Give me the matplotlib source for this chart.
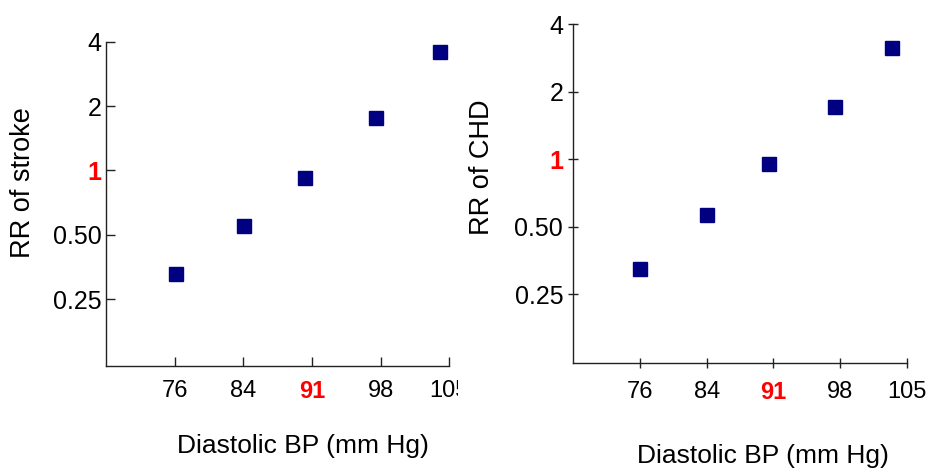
import matplotlib
matplotlib.use('Agg')
import matplotlib.pyplot as plt
from matplotlib.transforms import Bbox, TransformedBbox

plt.rcParams['font.family'] = ['Liberation Sans', 'DejaVu Sans']

bp_labels = ['76', '84', '91', '98', '105']
tick_pos = [1, 2, 3, 4, 5]
rr_ticks = [0.25, 0.5, 1, 2, 4]
rr_labels = ['0.25', '0.50', '1', '2', '4']

# x positions of the points (category units) and relative risks
stroke_x = [1.02, 2.01, 2.90, 3.93, 4.86]
stroke_rr = [0.326, 0.548, 0.921, 1.756, 3.59]
chd_x = [1.00, 2.01, 2.94, 3.92, 4.78]
chd_rr = [0.326, 0.565, 0.953, 1.717, 3.14]

navy = '#000080'
red = '#ff0000'

fig = plt.figure(figsize=(9.28, 4.68), dpi=100)

panels = [
    dict(rect=[106/928, 1-365.7/468, 343.4/928, 324/468], x=stroke_x, y=stroke_rr,
         ylabel='RR of stroke', ylim=(0.122, 4), ms=10.5, tickdir='in',
         ylab_xy=(23, 183), xlab_xy=(303, 453), ypad=3),
    dict(rect=[573.3/928, 1-362.7/468, 333.4/928, 338.4/468], x=chd_x, y=chd_rr,
         ylabel='RR of CHD', ylim=(0.124, 4), ms=10, tickdir='inout',
         ylab_xy=(482.5, 167.5), xlab_xy=(763, 463), ypad=4),
]

for p in panels:
    ax = fig.add_axes(p['rect'])
    ax.plot(p['x'], p['y'], 's', color=navy, ms=p['ms'], clip_on=False)
    ax.set_yscale('log')
    ax.set_ylim(*p['ylim'])
    ax.set_xlim(0, 5)
    ax.set_yticks(rr_ticks)
    ax.set_yticklabels(rr_labels)
    ax.minorticks_off()
    ax.set_xticks(tick_pos)
    ax.set_xticklabels(bp_labels)
    for s in ['top', 'right']:
        ax.spines[s].set_visible(False)
    for s in ['left', 'bottom']:
        ax.spines[s].set_color('#222222')
        ax.spines[s].set_linewidth(1)
    ax.tick_params(axis='y', direction=p['tickdir'], length=6.5, width=1,
                   labelsize=18, pad=p['ypad'], color='#222222')
    ax.tick_params(axis='x', direction=p['tickdir'], length=6.5, width=1,
                   labelsize=17, pad=10, color='#222222')
    for lab in ax.get_yticklabels():
        if lab.get_text() == '1':
            lab.set_color(red)
            lab.set_fontweight('bold')
    for lab in ax.get_xticklabels():
        if lab.get_text() == '91':
            lab.set_color(red)
            lab.set_fontweight('bold')

    ax.set_ylabel(p['ylabel'], fontsize=19.5)
    ax.yaxis.set_label_coords(p['ylab_xy'][0]/928, 1-p['ylab_xy'][1]/468,
                              transform=fig.transFigure)
    ax.yaxis.label.set_va('center')
    ax.set_xlabel('Diastolic BP (mm Hg)', fontsize=19)
    ax.xaxis.set_label_coords(p['xlab_xy'][0]/928, 1-p['xlab_xy'][1]/468,
                              transform=fig.transFigure)
    ax.xaxis.label.set_va('baseline')
    p['ax'] = ax

# the "105" label of the left panel is cut off in the original
clip = TransformedBbox(Bbox([[0, 0], [458/928, 1]]), fig.transFigure)
for lab in panels[0]['ax'].get_xticklabels():
    lab.set_clip_box(clip)
    lab.set_clip_on(True)

fig.savefig('out.png', dpi=100)
